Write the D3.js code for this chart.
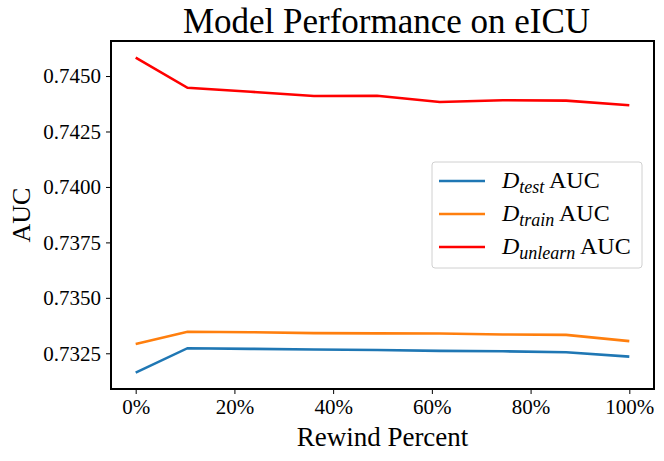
<!DOCTYPE html>
<html>
<head>
<meta charset="utf-8">
<script src="https://cdn.jsdelivr.net/npm/d3@7"></script>
<style>
  body { margin: 0; background: #fff; }
  text { font-family: "Liberation Serif", "DejaVu Serif", serif; fill: #000; }
</style>
</head>
<body>
<svg id="chart" width="664" height="461"></svg>
<script>
// rewind percent (x) and AUC per split
var rewind = [0, 10.5, 23.3, 36.1, 48.9, 61.6, 74.4, 87.2, 100];
var testAUC = [0.73163, 0.73273, 0.73270, 0.73267, 0.73265, 0.73261, 0.73259, 0.73255, 0.73235];
var trainAUC = [0.73292, 0.73347, 0.73345, 0.73341, 0.73340, 0.73339, 0.73335, 0.73333, 0.73305];
var unlearnAUC = [0.74583, 0.74447, 0.74429, 0.74410, 0.74411, 0.74383, 0.74391, 0.74389, 0.74368];
var xTicks = [0, 20, 40, 60, 80, 100];
var yTicks = [0.7325, 0.7350, 0.7375, 0.7400, 0.7425, 0.7450];

var series = [
  { sub: "test", values: testAUC, color: "#1f77b4" },
  { sub: "train", values: trainAUC, color: "#ff7f0e" },
  { sub: "unlearn", values: unlearnAUC, color: "#ff0000" }
];

var svg = d3.select("#chart"),
  WIDTH = 664,
  HEIGHT = 461,
  MARGINS = { top: 41, right: 10, bottom: 72, left: 111 };

var xScale = d3.scaleLinear()
  .domain([-5, 105])
  .range([MARGINS.left, WIDTH - MARGINS.right]);

var yScale = d3.scaleLinear()
  .domain([0.73089, 0.74658])
  .range([HEIGHT - MARGINS.bottom, MARGINS.top]);

var xAxis = d3.axisBottom(xScale)
  .tickValues(xTicks)
  .tickSize(5)
  .tickPadding(5)
  .tickFormat(function (d) { return d + "%"; });

var yAxis = d3.axisLeft(yScale)
  .tickValues(yTicks)
  .tickSize(5)
  .tickPadding(5)
  .tickFormat(d3.format(".4f"));

var gx = svg.append("g")
  .attr("transform", "translate(0," + (HEIGHT - MARGINS.bottom) + ")")
  .call(xAxis);
var gy = svg.append("g")
  .attr("transform", "translate(" + MARGINS.left + ",0)")
  .call(yAxis);

[gx, gy].forEach(function (g) {
  g.select(".domain").remove();
  g.selectAll(".tick line").attr("stroke", "#000").attr("stroke-width", 1);
  g.selectAll(".tick text")
    .style("font-family", "'Liberation Serif', serif")
    .style("font-size", "21px")
    .attr("fill", "#000");
});

var lineGen = d3.line()
  .x(function (d, i) { return xScale(rewind[i]); })
  .y(function (d) { return yScale(d); });

series.forEach(function (s) {
  svg.append("path")
    .attr("d", lineGen(s.values))
    .attr("stroke", s.color)
    .attr("stroke-width", 2.6)
    .attr("fill", "none");
});

// axes frame
svg.append("rect")
  .attr("x", MARGINS.left)
  .attr("y", MARGINS.top)
  .attr("width", WIDTH - MARGINS.left - MARGINS.right)
  .attr("height", HEIGHT - MARGINS.top - MARGINS.bottom)
  .attr("fill", "none")
  .attr("stroke", "#000")
  .attr("stroke-width", 2);

// title and axis labels
svg.append("text")
  .attr("x", (MARGINS.left + WIDTH - MARGINS.right) / 2 + 4)
  .attr("y", 33)
  .style("text-anchor", "middle")
  .style("font-size", "35px")
  .text("Model Performance on eICU");

svg.append("text")
  .attr("x", (MARGINS.left + WIDTH - MARGINS.right) / 2)
  .attr("y", 446)
  .style("text-anchor", "middle")
  .style("font-size", "27px")
  .text("Rewind Percent");

svg.append("text")
  .attr("transform", "rotate(-90)")
  .attr("x", -(MARGINS.top + HEIGHT - MARGINS.bottom) / 2)
  .attr("y", 30)
  .style("text-anchor", "middle")
  .style("font-size", "26px")
  .text("AUC");

// legend
var legend = svg.append("g").attr("transform", "translate(432,162)");
legend.append("rect")
  .attr("width", 210)
  .attr("height", 106)
  .attr("rx", 3)
  .attr("fill", "#fff")
  .attr("fill-opacity", 0.8)
  .attr("stroke", "#d0d0d0")
  .attr("stroke-width", 1);

series.forEach(function (s, i) {
  var y = 19 + i * 33;
  legend.append("line")
    .attr("x1", 7).attr("x2", 53)
    .attr("y1", y).attr("y2", y)
    .attr("stroke", s.color)
    .attr("stroke-width", 2.6);
  var t = legend.append("text")
    .attr("x", 70)
    .attr("y", y + 7)
    .style("font-size", "24px");
  t.append("tspan").style("font-style", "italic").text("D");
  t.append("tspan")
    .style("font-style", "italic")
    .style("font-size", "18px")
    .attr("dy", 5)
    .text(s.sub);
  t.append("tspan").attr("dy", -5).text(" AUC");
});
</script>
</body>
</html>
